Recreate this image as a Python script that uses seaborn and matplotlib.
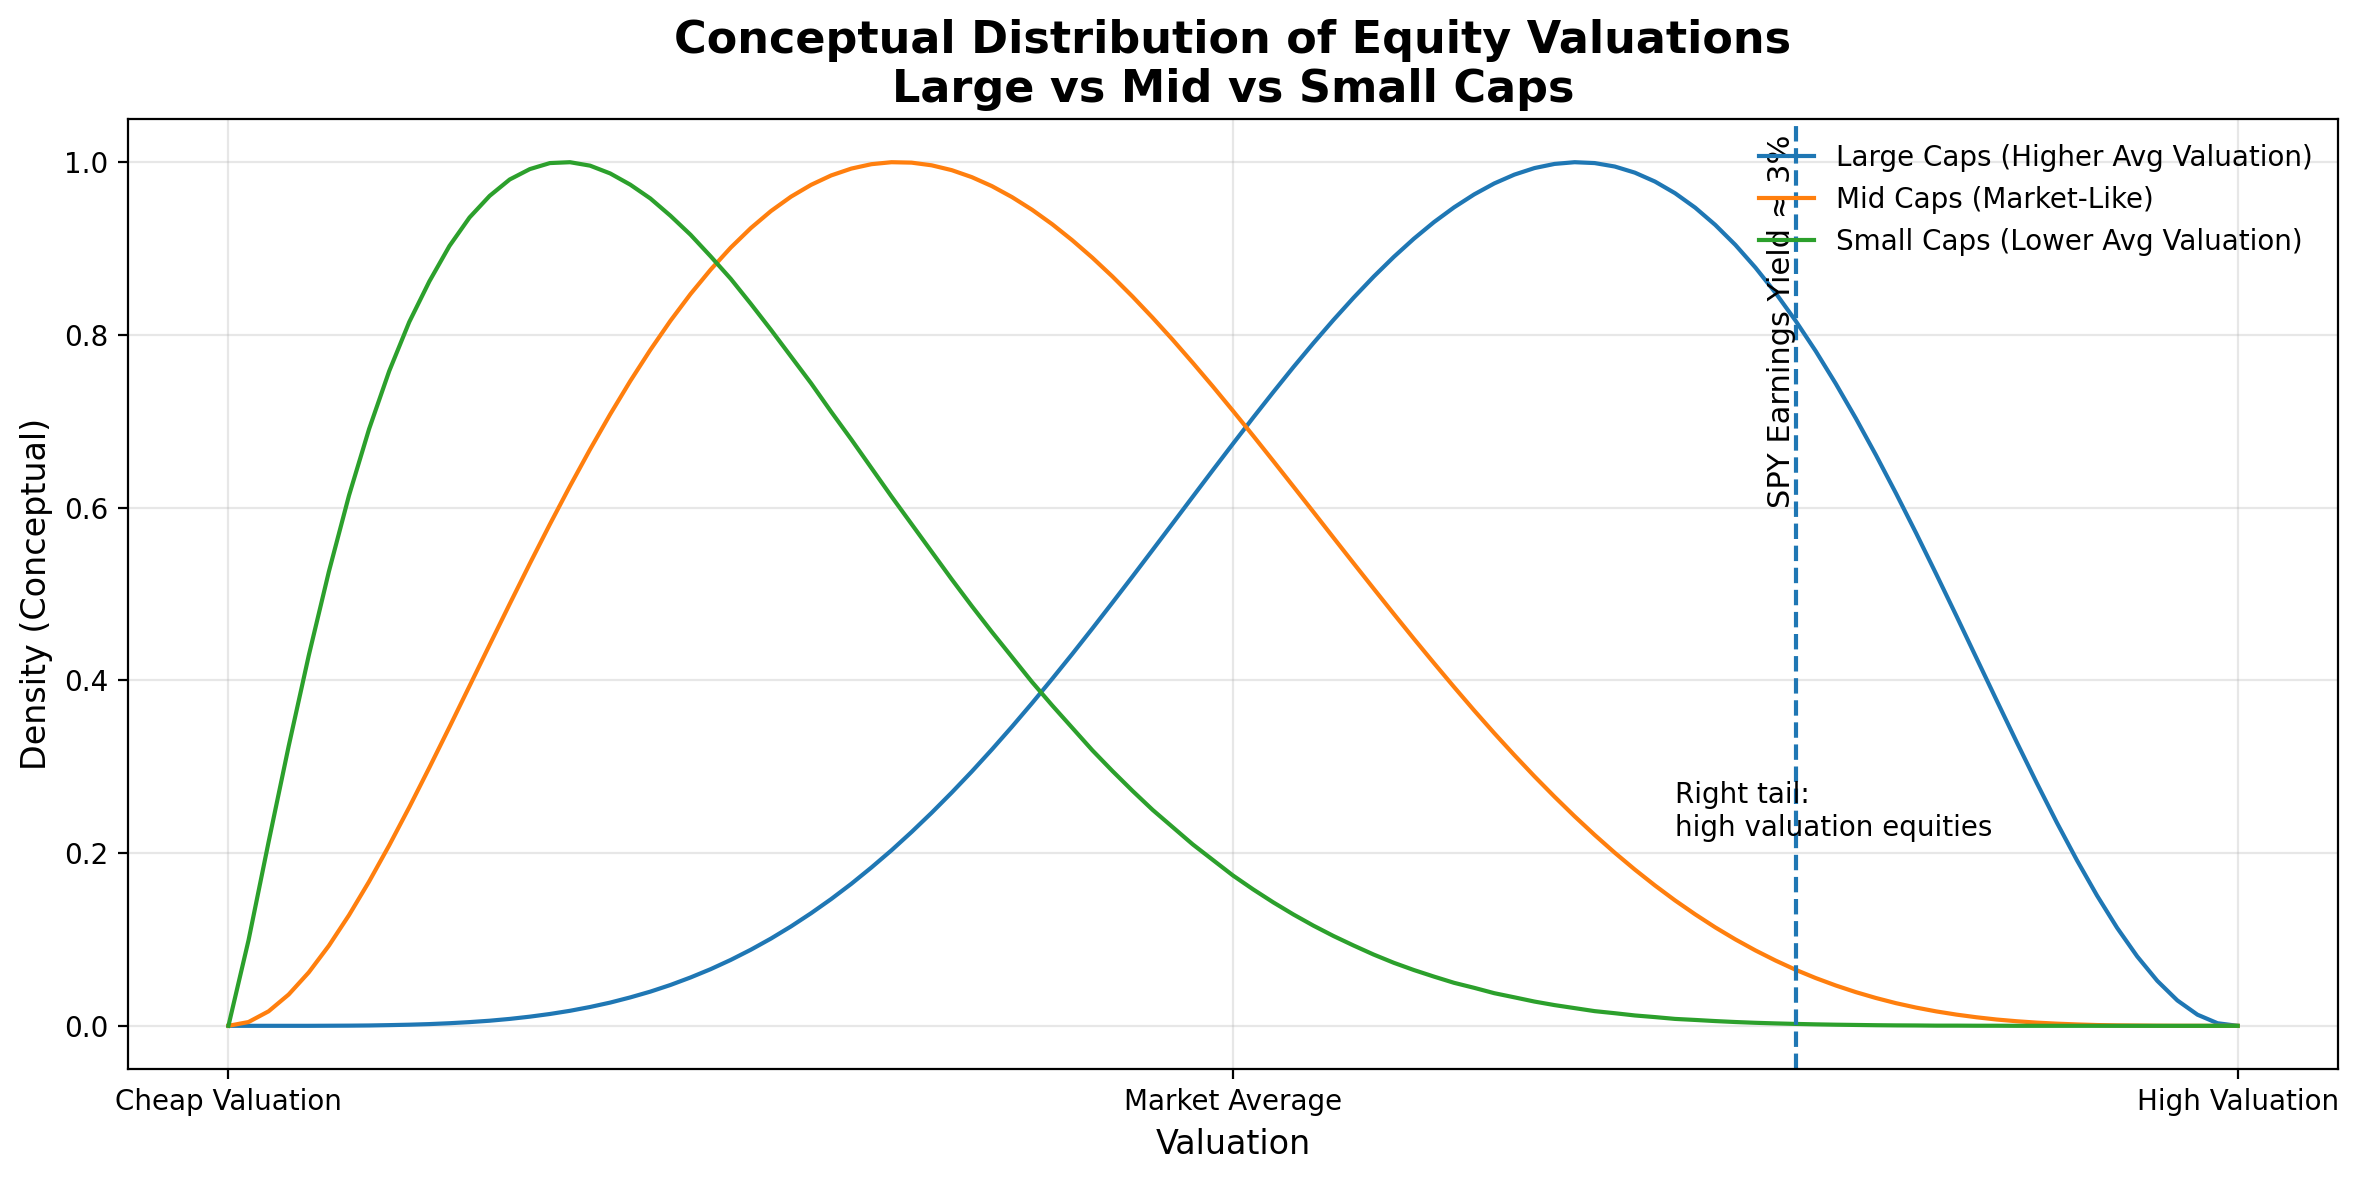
"""
Conceptual distribution of equity valuations: large vs mid vs small caps.
"""

import pandas as pd
import matplotlib
matplotlib.use("Agg")
import matplotlib.pyplot as plt
import seaborn as sns

# valuation axis (0 = cheap, 0.5 = market average, 1 = high)
valuation = [
    0.00, 0.01, 0.02, 0.03, 0.04, 0.05, 0.06, 0.07, 0.08, 0.09,
    0.10, 0.11, 0.12, 0.13, 0.14, 0.15, 0.16, 0.17, 0.18, 0.19,
    0.20, 0.21, 0.22, 0.23, 0.24, 0.25, 0.26, 0.27, 0.28, 0.29,
    0.30, 0.31, 0.32, 0.33, 0.34, 0.35, 0.36, 0.37, 0.38, 0.39,
    0.40, 0.41, 0.42, 0.43, 0.44, 0.45, 0.46, 0.47, 0.48, 0.49,
    0.50, 0.51, 0.52, 0.53, 0.54, 0.55, 0.56, 0.57, 0.58, 0.59,
    0.60, 0.61, 0.62, 0.63, 0.64, 0.65, 0.66, 0.67, 0.68, 0.69,
    0.70, 0.71, 0.72, 0.73, 0.74, 0.75, 0.76, 0.77, 0.78, 0.79,
    0.80, 0.81, 0.82, 0.83, 0.84, 0.85, 0.86, 0.87, 0.88, 0.89,
    0.90, 0.91, 0.92, 0.93, 0.94, 0.95, 0.96, 0.97, 0.98, 0.99,
    1.00,
]

large_caps = [
    0.0, 0.0, 0.0, 0.0, 0.0, 0.0001, 0.0002, 0.0004, 0.0008, 0.0013,
    0.0020, 0.0030, 0.0043, 0.0059, 0.0080, 0.0106, 0.0137, 0.0174, 0.0218, 0.0269,
    0.0329, 0.0396, 0.0473, 0.0560, 0.0656, 0.0763, 0.0881, 0.1010, 0.1151, 0.1304,
    0.1468, 0.1644, 0.1833, 0.2032, 0.2244, 0.2467, 0.2701, 0.2945, 0.3200, 0.3464,
    0.3737, 0.4018, 0.4306, 0.4601, 0.4901, 0.5204, 0.5511, 0.5819, 0.6128, 0.6436,
    0.6741, 0.7042, 0.7337, 0.7626, 0.7905, 0.8174, 0.8431, 0.8675, 0.8903, 0.9114,
    0.9306, 0.9477, 0.9627, 0.9754, 0.9856, 0.9932, 0.9980, 1.0000, 0.9990, 0.9950,
    0.9879, 0.9776, 0.9641, 0.9474, 0.9274, 0.9043, 0.8780, 0.8487, 0.8164, 0.7813,
    0.7435, 0.7033, 0.6608, 0.6164, 0.5704, 0.5230, 0.4748, 0.4259, 0.3771, 0.3287,
    0.2813, 0.2354, 0.1918, 0.1509, 0.1135, 0.0804, 0.0521, 0.0294, 0.0129, 0.0030,
    0.0,
]

mid_caps = [
    0.0, 0.0044, 0.0168, 0.0363, 0.0619, 0.0928, 0.1281, 0.1670, 0.2089, 0.2531,
    0.2990, 0.3459, 0.3935, 0.4412, 0.4885, 0.5352, 0.5808, 0.6250, 0.6675, 0.7081,
    0.7466, 0.7827, 0.8164, 0.8474, 0.8756, 0.9011, 0.9237, 0.9434, 0.9601, 0.9738,
    0.9847, 0.9926, 0.9977, 1.0000, 0.9995, 0.9964, 0.9908, 0.9827, 0.9723, 0.9596,
    0.9449, 0.9282, 0.9096, 0.8894, 0.8676, 0.8444, 0.8199, 0.7943, 0.7676, 0.7402,
    0.7120, 0.6833, 0.6541, 0.6246, 0.5950, 0.5652, 0.5356, 0.5062, 0.4770, 0.4482,
    0.4200, 0.3923, 0.3652, 0.3389, 0.3135, 0.2889, 0.2653, 0.2426, 0.2210, 0.2004,
    0.1809, 0.1625, 0.1452, 0.1291, 0.1140, 0.1001, 0.0873, 0.0756, 0.0649, 0.0553,
    0.0467, 0.0390, 0.0322, 0.0262, 0.0211, 0.0167, 0.0130, 0.0099, 0.0073, 0.0053,
    0.0037, 0.0025, 0.0016, 0.0009, 0.0005, 0.0003, 0.0001, 0.0, 0.0, 0.0,
    0.0,
]

small_caps = [
    0.0, 0.099, 0.213, 0.324, 0.429, 0.526, 0.614, 0.691, 0.758, 0.815,
    0.862, 0.903, 0.936, 0.961, 0.980, 0.992, 0.999, 1.000, 0.996, 0.987,
    0.974, 0.958, 0.938, 0.916, 0.891, 0.865, 0.836, 0.806, 0.775, 0.744,
    0.711, 0.679, 0.646, 0.613, 0.581, 0.549, 0.517, 0.486, 0.456, 0.427,
    0.398, 0.371, 0.345, 0.319, 0.295, 0.272, 0.250, 0.230, 0.210, 0.192,
    0.174, 0.158, 0.143, 0.129, 0.116, 0.104, 0.093, 0.0825, 0.073, 0.0646,
    0.057, 0.0498, 0.044, 0.0378, 0.033, 0.0281, 0.024, 0.0205, 0.017, 0.0146,
    0.012, 0.0101, 0.008, 0.0068, 0.0055, 0.0044, 0.0035, 0.0028, 0.0022, 0.0017,
    0.0013, 0.0010, 0.0007, 0.0005, 0.0004, 0.0002, 0.0002, 0.0001, 0.0001, 0.0,
    0.0, 0.0, 0.0, 0.0, 0.0, 0.0, 0.0, 0.0, 0.0, 0.0,
    0.0,
]

series_labels = [
    "Large Caps (Higher Avg Valuation)",
    "Mid Caps (Market-Like)",
    "Small Caps (Lower Avg Valuation)",
]
series_colors = ["#1f77b4", "#ff7f0e", "#2ca02c"]

tick_positions = [0, 0.5, 1]
tick_labels = ["Cheap Valuation", "Market Average", "High Valuation"]

spy_line = 0.78

df = pd.DataFrame({
    "Valuation": valuation,
    "large": large_caps,
    "mid": mid_caps,
    "small": small_caps,
})

fig, ax = plt.subplots(figsize=(11.805, 5.91), dpi=200)
fig.subplots_adjust(left=0.0542, right=0.9903, bottom=0.0956, top=0.8993)

for col, label, color in zip(["large", "mid", "small"], series_labels, series_colors):
    sns.lineplot(data=df, x="Valuation", y=col, label=label, color=color,
                 linewidth=1.5, ax=ax)

ax.axvline(spy_line, linestyle="--", color="#1f77b4", linewidth=1.5)
ax.text(spy_line, 0.6, "SPY Earnings Yield ≈ 3%", rotation=90,
        ha="right", va="bottom", fontsize=11)
ax.text(0.72, 0.22, "Right tail:\nhigh valuation equities", fontsize=10)

ax.set_xticks(tick_positions)
ax.set_xticklabels(tick_labels)
ax.set_xlabel("Valuation", fontsize=12)
ax.set_ylabel("Density (Conceptual)", fontsize=12)
ax.set_title("Conceptual Distribution of Equity Valuations\nLarge vs Mid vs Small Caps",
             fontsize=16, fontweight="bold")
ax.grid(alpha=0.3)
ax.legend(loc="upper right", frameon=False)

fig.savefig("out.png", dpi=200)
